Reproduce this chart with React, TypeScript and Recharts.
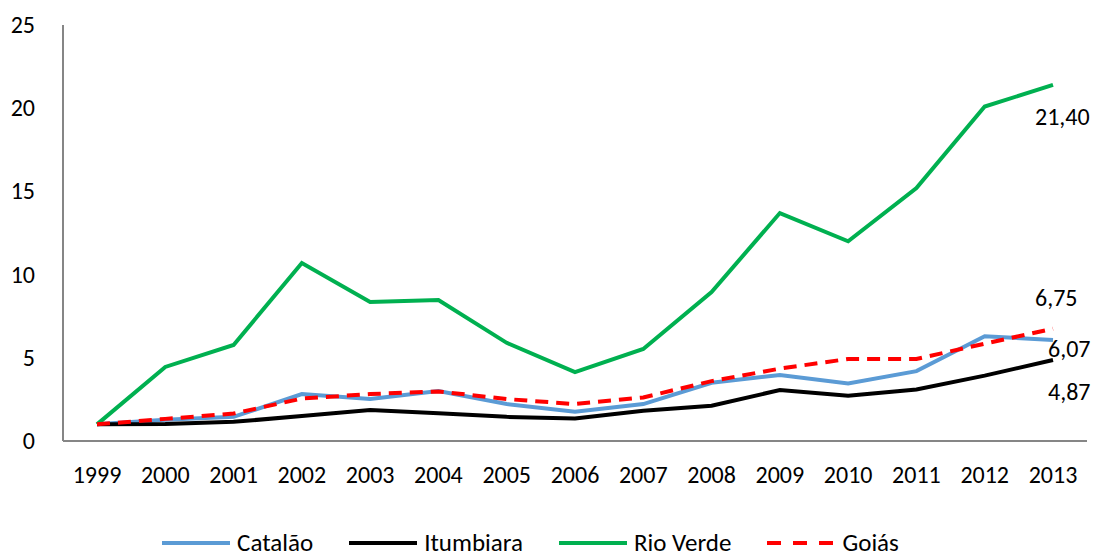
import React from 'react';
import { LineChart, Line, XAxis, YAxis, Legend, LabelList } from 'recharts';

const years = ['1999','2000','2001','2002','2003','2004','2005','2006','2007','2008','2009','2010','2011','2012','2013'];
const catalao = [1.0, 1.28, 1.45, 2.82, 2.52, 3.0, 2.22, 1.76, 2.22, 3.5, 3.97, 3.46, 4.2, 6.3, 6.07];
const itumbiara = [1.0, 1.02, 1.15, 1.5, 1.86, 1.67, 1.45, 1.35, 1.82, 2.12, 3.06, 2.72, 3.1, 3.93, 4.87];
const rioVerde = [1.0, 4.45, 5.77, 10.7, 8.35, 8.47, 5.9, 4.14, 5.53, 8.95, 13.7, 12.0, 15.2, 20.1, 21.4];
const goias = [1.0, 1.33, 1.65, 2.55, 2.82, 2.98, 2.52, 2.22, 2.62, 3.6, 4.35, 4.93, 4.93, 5.85, 6.75];
const yTicks = [0, 5, 10, 15, 20, 25];
const endLabels = { catalao: '6,07', itumbiara: '4,87', rioVerde: '21,40', goias: '6,75' };

const data = years.map((y, i) => ({
  year: y,
  catalao: catalao[i],
  itumbiara: itumbiara[i],
  rioVerde: rioVerde[i],
  goias: goias[i],
}));

const FONT = 'Carlito, Lato, "Open Sans", sans-serif';
const FS = 24;
const LFS = 25;

const series = [
  { key: 'catalao', name: 'Catalão', color: '#5B9BD5', dash: undefined as string | undefined, legendDash: undefined as string | undefined, dx: -5, dy: 17 },
  { key: 'itumbiara', name: 'Itumbiara', color: '#000000', dash: undefined, legendDash: undefined, dx: -5, dy: 40 },
  { key: 'rioVerde', name: 'Rio Verde', color: '#00B050', dash: undefined, legendDash: undefined, dx: -18, dy: 40 },
  { key: 'goias', name: 'Goiás', color: '#FF0000', dash: '13 8', legendDash: '14 12', dx: -18, dy: -23 },
];

const XTick = (props: any) => {
  const { x, y, payload } = props;
  return (
    <text x={x} y={y + 42} textAnchor="middle" fontFamily={FONT} fontSize={FS} fill="#000">
      {payload.value}
    </text>
  );
};

const YTick = (props: any) => {
  const { y, payload } = props;
  return (
    <text x={35} y={y + 8} textAnchor="end" fontFamily={FONT} fontSize={FS} fill="#000">
      {payload.value}
    </text>
  );
};

const makeEndLabel = (key: string, dx: number, dy: number) => (props: any) => {
  const { x, y, index } = props;
  if (index !== years.length - 1) return null;
  return (
    <text x={x + dx} y={y + dy} textAnchor="start" fontFamily={FONT} fontSize={FS} fill="#000">
      {(endLabels as any)[key]}
    </text>
  );
};

const LegendContent = () => (
  <div style={{ display: 'flex', justifyContent: 'center', alignItems: 'center', height: 26, marginTop: 4, paddingRight: 26, fontFamily: FONT, fontSize: LFS, lineHeight: '26px' }}>
    {series.map((s) => (
      <div key={s.key} style={{ display: 'flex', alignItems: 'center', margin: '0 18px', height: 26 }}>
        <svg width={68} height={8} style={{ display: 'block' }}>
          <line x1={0} y1={4} x2={68} y2={4} stroke={s.color} strokeWidth={4} strokeDasharray={s.legendDash} />
        </svg>
        <span style={{ marginLeft: 7, color: '#000', lineHeight: '26px' }}>{s.name}</span>
      </div>
    ))}
  </div>
);

export default function App() {
  return (
    <div style={{ position: 'absolute', left: 0, top: 0, width: 1097, height: 556, background: '#fff' }}>
      <LineChart width={1097} height={556} data={data} margin={{ top: 25, right: 10, left: 0, bottom: 0 }}>
        <XAxis
          dataKey="year"
          tick={<XTick />}
          tickLine={false}
          tickSize={0}
          tickMargin={0}
          height={85}
          stroke="#868686"
          strokeWidth={2}
          interval={0}
          padding={{ left: 34, right: 34 }}
        />
        <YAxis
          domain={[0, 25]}
          ticks={yTicks}
          tick={<YTick />}
          tickLine={false}
          tickSize={0}
          width={63}
          stroke="#868686"
          strokeWidth={2}
          interval={0}
        />
        <Legend verticalAlign="bottom" height={30} content={<LegendContent />} />
        {series.map((s) => (
          <Line
            key={s.key}
            type="linear"
            dataKey={s.key}
            name={s.name}
            stroke={s.color}
            strokeWidth={4}
            strokeDasharray={s.dash}
            dot={false}
            activeDot={false}
            isAnimationActive={false}
          >
            <LabelList dataKey={s.key} content={makeEndLabel(s.key, s.dx, s.dy)} />
          </Line>
        ))}
      </LineChart>
    </div>
  );
}
